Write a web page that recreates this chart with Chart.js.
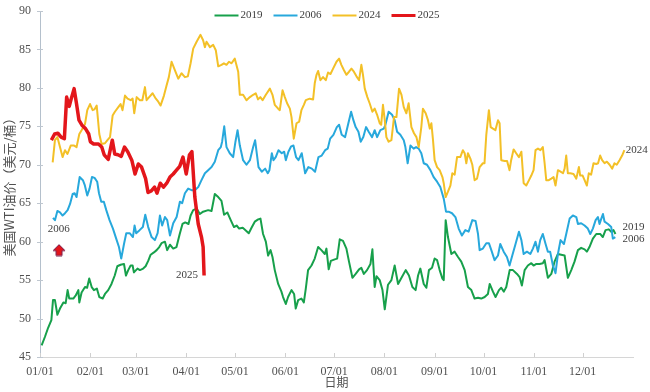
<!DOCTYPE html>
<html lang="zh">
<head>
<meta charset="UTF-8" />
<title>美国WTI油价季节性走势</title>
<style>
  html, body { margin: 0; padding: 0; background: #fff; }
  .wrap { position: relative; width: 650px; height: 392px; }
</style>
</head>
<body>
<div class="wrap"><canvas id="oilChart"></canvas></div>
<script src="https://cdn.jsdelivr.net/npm/chart.js"></script>
<script>
// x 轴: 一年中的第几天 (01/01 = 0)
const monthDays = [0, 31, 59, 90, 120, 151, 181, 212, 243, 273, 304, 334]
const monthLabels = ["01/01", "02/01", "03/01", "04/01", "05/01", "06/01",
  "07/01", "08/01", "09/01", "10/01", "11/01", "12/01"]

// 2019
const days2019 = [
  1, 3, 5, 7, 8, 9.2, 10.7, 12.3, 14.4, 15.8,
  17, 18, 20.5, 22, 23.6, 24.2, 25.6, 27.7, 29, 30.3,
  31.8, 33.2, 35, 36.5, 38.6, 40, 42, 44, 46, 47.6,
  49.6, 51.7, 52.9, 54.3, 55.8, 57, 57.8, 60, 61.5, 63.5,
  65, 66.6, 68.1, 70.1, 71.8, 73.4, 74.8, 76.9, 78.3, 80,
  82, 84, 86, 87.7, 89.4, 91.4, 92.7, 94.3, 96.4, 98.4,
  100.4, 103.5, 105.6, 107.6, 109.7, 111.7, 113.3, 115.3, 117.4, 119.4,
  121, 122.6, 124.8, 127, 128.5, 130.2, 132.2, 134.3, 135.7, 137.3,
  139, 140.4, 141.9, 143.1, 144.5, 146.6, 148.6, 149.6, 151.3, 152.7,
  154.8, 156.4, 157.4, 158.9, 160.9, 162.4, 163.6, 165, 167.1, 169.1,
  171.2, 173.2, 175.3, 176.3, 177.7, 179, 181.4, 182.9, 184.5, 186.5,
  188.6, 190.2, 192.3, 194.3, 196.4, 197.8, 199.3, 201.3, 203.4, 204.6,
  206, 207.1, 209.1, 210.8, 212.2, 214.2, 216.3, 218.3, 220.4, 222.5,
  225.1, 227.1, 229.2, 231.2, 232.7, 234.1, 236.2, 237.8, 239.4, 241.3,
  242.9, 244.4, 246, 247.7, 248.5, 249.7, 251.1, 253.2, 255.2, 257.3,
  259.3, 261.4, 263.4, 265.5, 267.5, 269.6, 271.6, 273.7, 275.7, 276.8,
  278.8, 280.4, 282.5, 283.9, 285.5, 287, 289.1, 291.1, 293.6, 295.2,
  296.6, 298.3, 300.3, 302.4, 303.8, 305.5, 307.5, 309.5, 310.6, 312.6,
  314.7, 316.7, 318.8, 320.8, 322.9, 324.9, 327, 329, 331.1, 333.1,
  335.2, 336.6, 338.2, 340.3, 342.4, 344.8, 346.4, 348.1, 350.1, 351.6,
  353, 354.2
]
const oil2019 = [
  46.5, 47.6, 48.8, 49.8, 52.4, 52.4, 50.5, 51.3, 52.1, 52.0,
  53.7, 52.6, 52.6, 53.0, 53.7, 52.1, 53.4, 54.1, 54.0, 55.2,
  54.1, 53.7, 53.9, 52.8, 52.6, 53.2, 53.7, 54.5, 55.6, 56.8,
  57.0, 57.1, 55.6, 56.3, 56.9, 56.9, 56.0, 56.5, 56.3, 56.5,
  56.8, 57.5, 58.3, 58.6, 58.9, 59.3, 59.8, 60.0, 58.9, 59.6,
  59.1, 59.3, 61.0, 62.3, 62.5, 62.3, 63.4, 64.1, 64.3, 63.6,
  63.9, 64.1, 64.0, 66.2, 65.8, 65.3, 63.5, 63.8, 62.8, 61.9,
  62.1, 61.7, 61.8, 61.4, 61.1, 61.8, 62.6, 62.9, 63.0, 61.0,
  60.0, 58.2, 58.9, 58.0, 56.3, 54.5, 53.5, 52.8, 51.9, 52.8,
  53.7, 53.2, 51.3, 52.4, 52.6, 52.1, 53.9, 56.3, 56.9, 57.8,
  59.3, 58.9, 58.4, 59.1, 56.4, 57.5, 57.7, 57.8, 60.3, 60.1,
  59.1, 57.4, 55.3, 55.8, 56.4, 56.6, 55.8, 56.3, 57.1, 59.0,
  54.1, 55.5, 55.0, 53.7, 51.2, 54.4, 55.0, 56.9, 54.5, 55.3,
  56.3, 55.6, 54.1, 53.7, 55.6, 56.5, 54.5, 54.0, 56.3, 56.6,
  57.8, 57.6, 56.3, 55.2, 55.0, 62.8, 60.6, 58.4, 58.7, 58.0,
  57.4, 56.3, 54.1, 53.7, 52.6, 52.7, 52.6, 52.8, 53.2, 54.5,
  53.5, 52.8, 53.7, 54.0, 53.5, 54.1, 56.3, 56.3, 55.8, 55.4,
  54.3, 56.3, 56.9, 57.2, 56.9, 57.1, 57.1, 57.2, 57.6, 55.3,
  55.8, 57.4, 58.4, 58.3, 58.2, 55.3, 56.3, 57.4, 58.9, 59.2,
  59.0, 58.7, 59.3, 60.4, 61.0, 61.0, 60.6, 61.5, 61.6, 61.3,
  61.5, 61.0
]

// 2006
const days2006 = [
  8, 9.2, 10.7, 12.3, 13.9, 15.4, 17, 18.5, 20.1, 21.3,
  22.5, 24.4, 26.4, 27.5, 29.1, 30.5, 32, 33.6, 35.2, 36.3,
  37.7, 39.3, 40.8, 42.8, 44.9, 46.9, 48.6, 50, 51.7, 53.1,
  55.2, 57.2, 58.2, 59.2, 61.3, 63.3, 64.8, 66.6, 68.7, 70.7,
  72.4, 73.8, 75.2, 76.9, 78.3, 80, 82, 84.1, 86.1, 87.5,
  89.2, 91.2, 93.3, 95.3, 97.4, 99.4, 101.5, 103.5, 105.6, 107.6,
  109.7, 111.3, 112.1, 113.4, 114.8, 116.8, 118.9, 120.3, 121.6, 123,
  125, 127.1, 129.2, 131.2, 132.4, 134.5, 136.5, 138.6, 140.2, 141.2,
  142.7, 143.7, 145.1, 146.8, 148.8, 150.3, 151.3, 152.9, 154.6, 156,
  157.6, 159.1, 161.1, 163.2, 165.2, 167.3, 169.3, 171.4, 173.4, 175.5,
  177.1, 178.6, 180.6, 182.7, 184.1, 185.7, 187.8, 189.8, 191.5, 192.9,
  194.3, 196, 197.4, 199, 200.7, 202.3, 204.4, 206, 207.5, 209.5,
  211.6, 212.6, 214.6, 216.7, 218.3, 219.8, 221.8, 223.9, 224.9, 226.3,
  228, 230, 231.5, 233.1, 234.7, 236.2, 238.2, 240.3, 242.3, 244.4,
  246.4, 248.5, 249.9, 251.5, 253.6, 255.7, 257.7, 259.7, 261.8, 263.8,
  266.1, 268.1, 269.6, 270.6, 272.6, 274.7, 276.3, 277.8, 279.8, 281.9,
  283.3, 285.4, 287.4, 289, 290.7, 292.7, 294.8, 296.3, 297.7, 299.7,
  301.8, 303.4, 305, 306.5, 307.9, 309.5, 311.2, 312.6, 314, 315.7,
  317.3, 318.8, 320.4, 322.5, 323.9, 326, 328, 330.1, 331.1, 333.1,
  335.2, 337.2, 338.7, 340.3, 342, 343.4, 344.4, 345.5, 346.5, 347.5,
  349.6, 351.6, 352.6, 354.1
]
const oil2006 = [
  63.1, 62.8, 64.0, 63.8, 63.4, 63.7, 64.1, 64.9, 66.2, 66.3,
  65.8, 68.4, 68.0, 67.4, 66.0, 66.9, 68.4, 68.3, 67.8, 66.3,
  65.2, 65.2, 64.1, 62.8, 61.7, 60.4, 59.3, 57.8, 59.7, 61.1,
  61.1, 60.6, 62.1, 61.1, 61.5, 61.9, 63.5, 61.9, 60.6, 60.2,
  61.1, 63.4, 62.1, 63.2, 62.8, 60.8, 62.4, 63.2, 65.2, 65.0,
  66.3, 66.9, 66.7, 66.7, 67.1, 68.0, 68.9, 69.3, 69.7, 70.4,
  71.9, 72.3, 73.0, 75.0, 72.3, 71.5, 71.0, 73.0, 74.5, 72.5,
  70.6, 70.0, 70.6, 72.3, 73.2, 69.7, 69.1, 69.5, 68.9, 69.3,
  71.5, 70.6, 71.0, 71.9, 71.5, 71.7, 70.6, 71.7, 72.4, 72.5,
  71.0, 70.6, 71.5, 68.9, 69.7, 69.5, 69.1, 71.0, 71.2, 71.9,
  72.1, 73.4, 73.9, 74.9, 75.2, 73.9, 73.6, 75.4, 76.9, 75.8,
  74.9, 74.3, 73.0, 73.6, 74.9, 74.3, 73.6, 74.5, 73.6, 74.5,
  74.7, 75.2, 76.9, 76.5, 75.8, 74.3, 73.9, 73.2, 72.3, 70.2,
  72.5, 72.1, 72.3, 72.1, 71.5, 70.2, 70.0, 69.3, 68.4, 67.8,
  67.1, 65.6, 63.9, 63.9, 63.7, 63.2, 61.7, 60.8, 61.5, 61.3,
  62.8, 62.7, 61.0, 58.9, 59.1, 59.8, 59.8, 58.9, 57.6, 58.2,
  59.7, 58.7, 58.0, 56.9, 58.2, 59.7, 61.3, 60.2, 58.4, 58.7,
  58.4, 59.1, 60.0, 58.7, 60.2, 61.0, 59.7, 58.7, 58.7, 56.9,
  55.9, 58.4, 60.2, 59.7, 61.0, 63.0, 63.4, 63.2, 62.3, 62.4,
  62.1, 61.7, 61.0, 61.7, 62.8, 63.2, 62.3, 63.0, 63.6, 62.6,
  62.3, 61.9, 60.4, 60.6
]

// 2024
const days2024 = [
  7.8, 9.2, 10.7, 12.3, 13.9, 15.4, 16.9, 18.9, 21, 22.5,
  24.2, 25.6, 27.7, 29.1, 30.8, 32.4, 33.5, 34.9, 36.5, 37.9,
  40, 41.5, 43.1, 44.7, 46.1, 48.2, 49.6, 50.8, 52.3, 53.9,
  55.8, 57, 58, 59.5, 61.5, 63, 64.6, 65.6, 67.2, 69.3,
  71.3, 72.8, 74.2, 76.3, 77.9, 79.3, 81, 83, 85.1, 87.1,
  89.2, 91, 92.7, 94.3, 96.4, 98.8, 100.4, 101.5, 102.5, 104.6,
  106.6, 108.2, 109.7, 111.7, 113.2, 114.8, 116.3, 117.9, 119.9, 122,
  123, 125, 127.1, 129.2, 131.2, 132.8, 134.2, 135.6, 137, 139,
  141.5, 143.1, 144.5, 146.6, 147.6, 149.3, 150.7, 152.1, 153.8, 154.8,
  156.2, 157.9, 159.5, 160.9, 162.4, 163.6, 166, 168.1, 169.1, 170.2,
  171.2, 172.6, 174.2, 175.9, 177.3, 178.8, 180.4, 182.5, 184.1, 185.5,
  187.1, 188.6, 190.2, 191.7, 193.2, 194.8, 196.4, 197.8, 198.8, 199.9,
  201.5, 202.9, 204.6, 206, 207.5, 209.1, 210, 211.1, 212.2, 213.2,
  214.6, 216.3, 217.9, 219.4, 221, 222.5, 223.9, 225.5, 226.9, 228.6,
  230.2, 231.7, 233.1, 234.7, 235.7, 237.4, 238.8, 239.9, 240.9, 241.9,
  242.9, 244.4, 246, 247.7, 248.5, 249.7, 251.1, 252.6, 253.8, 255.2,
  256.7, 258.7, 260.3, 261.4, 262.4, 263.4, 264.9, 266.1, 267.5, 269,
  270.6, 272.6, 273.6, 274.7, 276.3, 277.4, 278.8, 280.3, 281.9, 282.9,
  283.9, 286, 287.5, 289, 290, 291.5, 293.1, 294.8, 296.3, 297.7,
  299.3, 301, 302.4, 303.8, 305, 306.5, 308, 309.5, 310.6, 311.6,
  313.2, 314.7, 316.1, 317.3, 318.8, 320.4, 321.9, 322.9, 323.9, 324.9,
  326.4, 328.4, 330.1, 331.7, 332.5, 334, 335.2, 336.6, 337.8, 339.2,
  340.7, 342.4, 343.5, 344.8, 346, 347.5, 348.9, 350.6, 352.2, 353.6,
  355, 356.7, 358.3, 359.7
]
const oil2024 = [
  70.3, 73.2, 73.6, 72.3, 71.0, 71.9, 71.4, 72.5, 72.5, 72.3,
  74.0, 74.5, 75.3, 77.1, 77.9, 77.1, 77.2, 77.7, 74.0, 72.7,
  72.8, 73.2, 73.6, 76.4, 76.9, 77.5, 77.9, 77.1, 79.0, 78.6,
  78.4, 78.6, 76.7, 78.8, 78.4, 78.4, 80.1, 78.4, 78.8, 79.3,
  78.6, 78.2, 77.7, 79.0, 80.3, 81.4, 83.4, 82.3, 81.2, 81.9,
  81.4, 81.5, 83.2, 85.1, 86.0, 86.9, 86.2, 85.3, 86.0, 85.3,
  85.6, 84.9, 82.8, 83.0, 83.2, 83.0, 83.4, 83.2, 83.8, 82.1,
  79.1, 79.1, 78.4, 78.8, 79.1, 79.3, 78.5, 78.8, 78.4, 79.1,
  79.9, 79.1, 77.8, 77.3, 77.1, 79.7, 78.8, 78.0, 77.3, 76.2,
  73.4, 75.4, 75.6, 77.1, 77.8, 78.4, 78.6, 78.5, 80.6, 81.7,
  82.2, 81.0, 81.4, 81.0, 82.0, 81.8, 82.5, 83.4, 83.8, 83.0,
  82.3, 81.7, 82.1, 82.5, 82.1, 81.5, 81.0, 83.0, 81.7, 79.9,
  78.8, 78.0, 76.9, 77.3, 76.5, 75.4, 75.2, 77.8, 75.8, 73.6,
  73.0, 73.2, 76.2, 76.2, 79.9, 79.1, 77.5, 76.7, 78.0, 74.9,
  74.1, 73.6, 72.3, 74.9, 77.3, 76.7, 75.8, 74.7, 75.4, 73.2,
  70.6, 69.7, 69.3, 68.4, 67.6, 65.8, 66.5, 67.3, 68.9, 68.7,
  71.0, 71.0, 71.9, 71.5, 70.2, 71.5, 70.8, 70.0, 68.0, 68.2,
  69.7, 70.2, 70.2, 73.9, 77.1, 74.9, 74.7, 74.5, 75.8, 75.4,
  70.6, 70.5, 70.5, 69.3, 70.6, 72.0, 71.5, 71.0, 71.7, 67.6,
  67.3, 68.0, 68.6, 69.3, 71.9, 72.1, 71.9, 72.3, 70.2, 68.0,
  68.0, 68.2, 68.4, 67.3, 69.3, 69.1, 68.9, 69.5, 71.2, 68.9,
  68.9, 68.8, 68.2, 69.7, 68.6, 68.6, 68.0, 67.3, 68.9, 68.7,
  70.2, 70.1, 70.2, 71.2, 70.6, 70.2, 70.4, 70.0, 69.5, 70.2,
  70.0, 70.6, 71.2, 71.9
]

// 2025
const days2025 = [
  7, 9, 11, 13, 15, 16.4, 18, 19.5, 21, 22.5,
  24, 26, 28, 30, 31, 33, 36, 38, 39.5, 42,
  44.5, 46, 48, 50, 52, 54, 56.5, 58.5, 60.5, 62.5,
  65, 66.5, 68.5, 70.5, 72, 74, 76, 78, 80, 82,
  84, 86, 88, 90, 92, 93.5, 95.3, 97.4, 99.4, 100.4,
  101
]
const oil2025 = [
  73.2, 74.0, 74.1, 73.6, 73.4, 78.8, 77.6, 78.8, 79.9, 77.9,
  75.8, 75.1, 74.7, 74.0, 73.0, 72.7, 72.7, 72.3, 71.3, 70.7,
  73.2, 71.4, 71.3, 71.1, 72.3, 71.7, 70.6, 68.8, 70.1, 69.7,
  68.2, 66.4, 66.6, 67.1, 66.3, 67.6, 67.1, 67.6, 68.4, 68.8,
  69.3, 69.8, 71.0, 68.8, 71.3, 71.7, 65.8, 62.3, 60.6, 59.3,
  55.6
]

// 图中文字标注与箭头 (数据坐标)
const noteTexts = ["2024", "2019", "2006", "2025", "2006"]
const noteDays = [360.5, 358.6, 358.6, 97.2, 11.6]
const noteValues = [71.9, 61.9, 60.3, 55.7, 61.6]
const noteAligns = ["left", "left", "left", "right", "center"]
const arrowDays = [11.7]
const arrowValues = [58.9]

const toPoints = (days, vals) => days.map((d, i) => ({ x: d, y: vals[i] }))

// 红色向上箭头
const arrowImg = document.createElement("canvas")
arrowImg.width = 14
arrowImg.height = 13
const actx = arrowImg.getContext("2d")
actx.beginPath()
actx.moveTo(7, 1)
actx.lineTo(13, 7)
actx.lineTo(10, 7)
actx.lineTo(10, 12)
actx.lineTo(4, 12)
actx.lineTo(4, 7)
actx.lineTo(1, 7)
actx.closePath()
actx.fillStyle = "#e3161b"
actx.fill()
actx.lineWidth = 1
actx.strokeStyle = "#7a2050"
actx.stroke()

const serif = "'Liberation Serif', 'DejaVu Serif', serif"
const cjk = "'Noto Sans CJK SC', sans-serif"

const overlayPlugin = {
    id: "overlay",
    afterDraw(chart) {
        const { ctx, chartArea } = chart
        const xs = chart.scales.x
        const ys = chart.scales.y
        ctx.save()

        // 刻度线
        ctx.strokeStyle = "#bfc7d0"
        ctx.lineWidth = 1
        ys.ticks.forEach((t) => {
            const py = Math.round(ys.getPixelForValue(t.value)) + 0.5
            ctx.beginPath()
            ctx.moveTo(chartArea.left - 3, py)
            ctx.lineTo(chartArea.left + 3, py)
            ctx.stroke()
        })
        ctx.strokeStyle = "#d0d0d0"
        monthDays.forEach((d) => {
            const px = Math.round(xs.getPixelForValue(d)) + 0.5
            ctx.beginPath()
            ctx.moveTo(px, chartArea.bottom - 4)
            ctx.lineTo(px, chartArea.bottom)
            ctx.stroke()
        })

        // 标注文字
        ctx.font = "11px " + serif
        ctx.fillStyle = "#404040"
        ctx.textBaseline = "middle"
        noteTexts.forEach((txt, i) => {
            ctx.textAlign = noteAligns[i]
            ctx.fillText(
                txt,
                xs.getPixelForValue(noteDays[i]),
                ys.getPixelForValue(noteValues[i])
            )
        })

        // 图例
        const items = chart.data.datasets.filter((ds) => ds.label)
        const swatch = 24
        const gap = 2
        const spacing = 11
        const widths = items.map((ds) => ctx.measureText(ds.label).width)
        const total = widths.reduce((a, w) => a + swatch + gap + w, 0) +
            spacing * (items.length - 1)
        let lx = chart.width / 2 - total / 2 + 2
        const ly = 15.5
        ctx.textAlign = "left"
        items.forEach((ds, i) => {
            ctx.strokeStyle = ds.borderColor
            ctx.lineWidth = Math.min(ds.borderWidth, 3)
            ctx.beginPath()
            ctx.moveTo(lx, ly)
            ctx.lineTo(lx + swatch, ly)
            ctx.stroke()
            ctx.fillStyle = "#404040"
            ctx.fillText(ds.label, lx + swatch + gap, ly)
            lx += swatch + gap + widths[i] + spacing
        })
        ctx.restore()
    },
}

const ctx = document.getElementById("oilChart").getContext("2d")
new Chart(ctx, {
    type: "line",
    data: {
        datasets: [
            {
                label: "2019",
                data: toPoints(days2019, oil2019),
                borderColor: "#17a04b",
                borderWidth: 2,
                order: 3,
            },
            {
                label: "2006",
                data: toPoints(days2006, oil2006),
                borderColor: "#27a8dc",
                borderWidth: 2,
                order: 2,
            },
            {
                label: "2024",
                data: toPoints(days2024, oil2024),
                borderColor: "#f3c027",
                borderWidth: 2,
                order: 1,
            },
            {
                label: "2025",
                data: toPoints(days2025, oil2025),
                borderColor: "#e3161b",
                borderWidth: 3.5,
                order: 0,
            },
            {
                data: toPoints(arrowDays, arrowValues),
                showLine: false,
                pointStyle: arrowImg,
                pointRadius: 7,
                order: -1,
            },
        ],
    },
    options: {
        responsive: true,
        maintainAspectRatio: false,
        animation: false,
        layout: { padding: { left: 0, right: 17, top: 11, bottom: 0 } },
        plugins: {
            legend: { display: false },
            tooltip: { enabled: false },
        },
        elements: {
            point: { radius: 0 },
            line: { tension: 0, borderJoinStyle: "round" },
        },
        scales: {
            x: {
                type: "linear",
                min: 0,
                max: 365,
                afterBuildTicks: (s) => {
                    s.ticks = monthDays.map((v) => ({ value: v }))
                },
                afterFit: (s) => {
                    s.height = 35
                },
                ticks: {
                    autoSkip: false,
                    maxRotation: 0,
                    padding: 8,
                    color: "#505050",
                    font: { family: serif, size: 12 },
                    callback: (v, i) => monthLabels[i],
                },
                grid: { display: true, drawOnChartArea: false, drawTicks: false },
                border: { color: "#d6d6d6", width: 1 },
                title: {
                    display: true,
                    text: "日期",
                    color: "#505050",
                    font: { family: cjk, size: 12 },
                    padding: { top: 0, bottom: 2 },
                },
            },
            y: {
                min: 45,
                max: 90,
                afterFit: (s) => {
                    s.width = 40
                    s.paddingTop = 0
                    s.paddingBottom = 0
                },
                ticks: {
                    stepSize: 5,
                    padding: 9,
                    color: "#505050",
                    font: { family: serif, size: 12 },
                },
                grid: { display: true, drawOnChartArea: false, drawTicks: false },
                border: { color: "#b4c0cc", width: 1 },
                title: {
                    display: true,
                    text: "美国WTI油价（美元/桶）",
                    color: "#505050",
                    font: { family: cjk, size: 13 },
                    padding: { top: 1, bottom: 0 },
                },
            },
        },
    },
    plugins: [overlayPlugin],
})
</script>
</body>
</html>
